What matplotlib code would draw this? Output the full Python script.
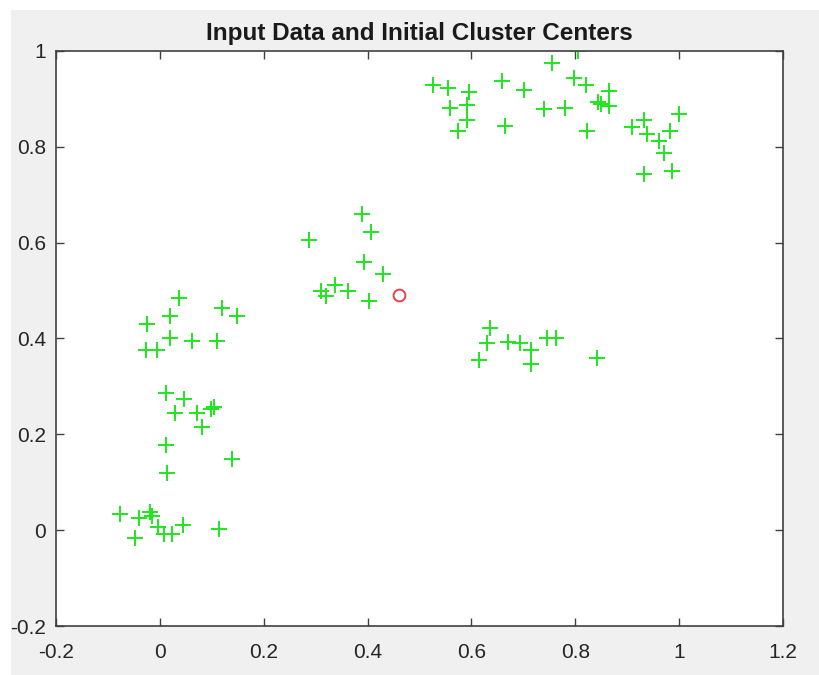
import matplotlib.pyplot as plt
from matplotlib.patches import Rectangle

# input points (x, y) and the starting cluster centre
data_x = [0.036, 0.120, 0.148, 0.019, -0.025, 0.019, 0.062, 0.111, -0.027, -0.006,
          0.011, 0.046, 0.030, 0.071, 0.099, 0.105, 0.082, 0.011, 0.139, 0.013,
          -0.077, -0.040, -0.019, -0.016, -0.003, 0.008, 0.024, 0.044, -0.048, 0.114,
          0.390, 0.407, 0.288, 0.394, 0.429, 0.338, 0.310, 0.319, 0.362, 0.402,
          0.805, 0.755, 0.526, 0.555, 0.595, 0.658, 0.701, 0.797, 0.820, 0.865,
          0.844, 0.850, 0.865, 0.558, 0.591, 0.591, 0.575, 0.740, 0.780, 0.664,
          0.823, 0.910, 0.933, 0.939, 0.962, 0.982, 1.000, 0.970, 0.933, 0.987,
          0.636, 0.630, 0.614, 0.670, 0.694, 0.715, 0.715, 0.745, 0.762, 0.841]
data_y = [0.484, 0.464, 0.446, 0.446, 0.430, 0.400, 0.394, 0.394, 0.376, 0.376,
          0.286, 0.274, 0.244, 0.244, 0.253, 0.258, 0.216, 0.178, 0.149, 0.119,
          0.034, 0.025, 0.037, 0.029, 0.006, -0.008, -0.008, 0.011, -0.016, 0.002,
          0.660, 0.622, 0.606, 0.560, 0.535, 0.512, 0.500, 0.488, 0.500, 0.478,
          1.000, 0.974, 0.930, 0.922, 0.915, 0.937, 0.919, 0.944, 0.928, 0.916,
          0.894, 0.889, 0.886, 0.882, 0.888, 0.856, 0.834, 0.878, 0.882, 0.844,
          0.832, 0.841, 0.857, 0.827, 0.813, 0.832, 0.869, 0.787, 0.743, 0.750,
          0.421, 0.391, 0.355, 0.393, 0.391, 0.375, 0.347, 0.401, 0.401, 0.359]
center_x = [0.461]
center_y = [0.491]

x_ticks = [-0.2, 0, 0.2, 0.4, 0.6, 0.8, 1, 1.2]
y_ticks = [-0.2, 0, 0.2, 0.4, 0.6, 0.8, 1]
x_labels = ['-0.2', '0', '0.2', '0.4', '0.6', '0.8', '1', '1.2']
y_labels = ['-0.2', '0', '0.2', '0.4', '0.6', '0.8', '1']

plt.rcParams['font.family'] = ['Liberation Sans', 'DejaVu Sans']

fig = plt.figure(figsize=(8.19, 6.75), dpi=100, facecolor='white')
# grey window background
fig.patches.append(Rectangle((11 / 819, 0), 1, (675 - 10) / 675,
                             transform=fig.transFigure, facecolor='#f0f0f0',
                             edgecolor='none', zorder=-1))

ax = fig.add_axes([56 / 819, 49 / 675, (783 - 56) / 819, (626 - 51) / 675])
ax.set_facecolor('white')

ax.plot(data_x, data_y, '+', color='#1fe61f', markersize=12, markeredgewidth=1.4)
ax.plot(center_x, center_y, 'o', color='#e8434b', markerfacecolor='none',
        markersize=8.5, markeredgewidth=1.4)

ax.set_xlim(-0.2, 1.2)
ax.set_ylim(-0.2, 1)
ax.set_xticks(x_ticks)
ax.set_xticklabels(x_labels)
ax.set_yticks(y_ticks)
ax.set_yticklabels(y_labels)
ax.tick_params(axis='both', direction='in', length=6, width=1.0, color='#404040',
               labelsize=15, labelcolor='#262626', top=True, right=True)
ax.tick_params(axis='x', pad=12)
ax.tick_params(axis='y', pad=7)
for s in ax.spines.values():
    s.set_color('#404040')
    s.set_linewidth(1.2)

ax.set_title('Input Data and Initial Cluster Centers', fontsize=17.5, fontweight='bold',
             color='#1a1a1a', pad=8)

fig.savefig('out.png', dpi=100, facecolor=fig.get_facecolor())
